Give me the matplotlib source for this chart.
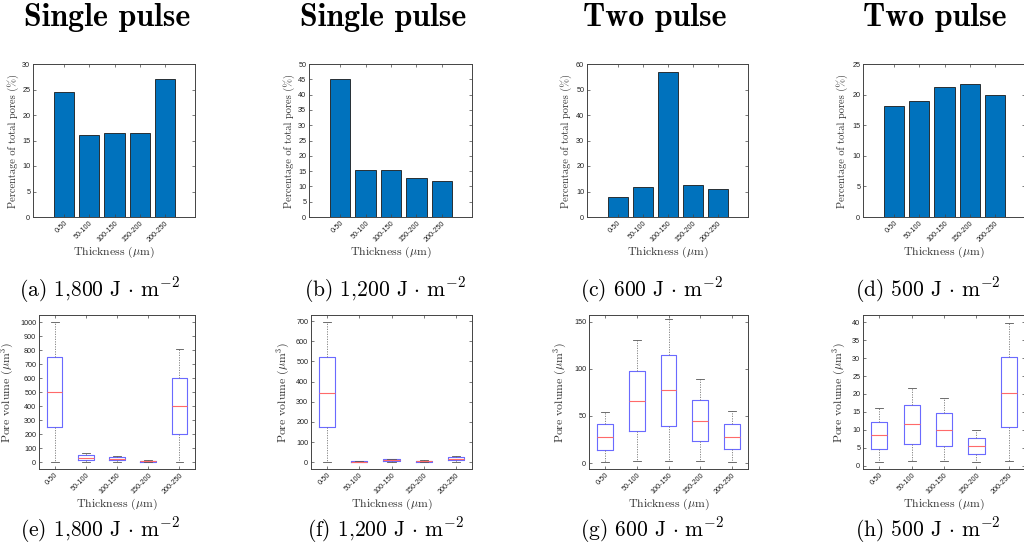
import numpy as np
import matplotlib
matplotlib.use("Agg")
import matplotlib.pyplot as plt

plt.rcParams['mathtext.fontset'] = 'cm'
plt.rcParams['axes.unicode_minus'] = False
plt.rcParams['font.sans-serif'] = ['Liberation Sans', 'DejaVu Sans']

cats = ["0-50", "50-100", "100-150", "150-200", "200-250"]

# percentage of total pores per thickness class
pct_a = [24.5, 16.0, 16.4, 16.5, 27.0]
pct_b = [45.2, 15.4, 15.2, 12.6, 11.8]
pct_c = [8.0, 11.8, 57.0, 12.7, 10.9]
pct_d = [18.1, 19.0, 21.3, 21.8, 19.9]

# pore volume box stats: whislo, q1, med, q3, whishi
vol_e = [[0, 250, 500, 750, 1000], [0, 15, 30, 50, 65], [0, 15, 25, 38, 48],
         [0, 5, 8, 12, 18], [0, 200, 400, 605, 810]]
vol_f = [[0, 175, 345, 520, 695], [0, 2, 4, 6, 8], [0, 5, 10, 16, 18],
         [0, 3, 5, 7, 10], [0, 10, 17, 25, 30]]
vol_g = [[1, 14, 28, 41, 54], [2, 34, 66, 98, 130], [2, 39, 77, 115, 153],
         [2, 23, 45, 67, 89], [1, 15, 28, 42, 55]]
vol_h = [[1, 4.8, 8.5, 12.3, 16], [1.2, 6.2, 11.5, 16.8, 21.8], [1.2, 5.4, 10.1, 14.6, 19],
         [1, 3.2, 5.4, 7.7, 9.9], [1.2, 10.7, 20.4, 30.2, 39.9]]

titles = ["Single pulse", "Single pulse", "Two pulse", "Two pulse"]
fluence = ["1,800", "1,200", "600", "500"]

W, H = 1024, 554
fig = plt.figure(figsize=(W / 100, H / 100), dpi=100)

def px_axes(x0, y0, x1, y1):
    return fig.add_axes([x0 / W, 1 - y1 / H, (x1 - x0) / W, (y1 - y0) / H])

def style(ax):
    for s in ax.spines.values():
        s.set_color('#444444')
        s.set_linewidth(0.7)
    ax.tick_params(direction='in', top=True, right=True, length=2, width=0.5,
                   colors='#444444', labelsize=5.2, labelcolor='#222222', pad=2)
    for lab in ax.get_xticklabels():
        lab.set_rotation(45)
        lab.set_ha('right')
        lab.set_rotation_mode('anchor')

serif = dict(family='cmr10')

bar_boxes = [(33, 64, 195, 217), (309, 64, 472, 217), (587, 64, 748, 217), (863, 64, 1025, 217)]
bar_data = [pct_a, pct_b, pct_c, pct_d]
bar_ylim = [(0, 30, 5), (0, 50, 5), (0, 60, 10), (0, 25, 5)]
bar_ylab_x = [-0.086, -0.086, -0.093, -0.093]

x = np.arange(1, 6)
for box, vals, (lo, hi, st), lx in zip(bar_boxes, bar_data, bar_ylim, bar_ylab_x):
    ax = px_axes(*box)
    ax.bar(x, vals, width=0.8, color='#0072BD', edgecolor='#1a1a1a', linewidth=0.6)
    ax.set_xlim(-0.23, 6.19)
    ax.set_ylim(lo, hi)
    ax.set_yticks(np.arange(lo, hi + 0.1, st))
    ax.set_xticks(x)
    ax.set_xticklabels(cats)
    style(ax)
    ax.set_ylabel("Percentage of total pores (%)", fontsize=7.5, color='#333333', **serif)
    ax.set_xlabel(r"Thickness ($\mu$m)", fontsize=8.5, color='#333333', **serif)
    ax.yaxis.set_label_coords(lx, 0.5)
    ax.xaxis.set_label_coords(0.5, -0.183)

box_boxes = [(39, 315, 195, 469), (311, 315, 472, 469), (589, 315, 748, 469), (863, 315, 1025, 469)]
box_data = [vol_e, vol_f, vol_g, vol_h]
box_ylim = [((-48, 1053), np.arange(0, 1001, 100)), ((-33, 730), np.arange(0, 701, 100)),
            ((-6.2, 157), np.arange(0, 151, 50)), ((-0.9, 42), np.arange(0, 41, 5))]
box_ylab_x = [-0.147, -0.118, -0.126, -0.093]

for box, vals, (yl, yt), lx in zip(box_boxes, box_data, box_ylim, box_ylab_x):
    ax = px_axes(*box)
    stats = [dict(whislo=v[0], q1=v[1], med=v[2], q3=v[3], whishi=v[4], fliers=[]) for v in vals]
    ax.bxp(stats, positions=x, widths=0.5, capwidths=0.25, showfliers=False,
           boxprops=dict(color='#6a6aff', linewidth=0.8),
           medianprops=dict(color='#ff6a6a', linewidth=0.8),
           whiskerprops=dict(color='#777777', linewidth=0.6, linestyle=(0, (1.5, 1.5))),
           capprops=dict(color='#555555', linewidth=0.6))
    ax.set_xlim(0.5, 5.5)
    ax.set_ylim(*yl)
    ax.set_yticks(yt)
    ax.set_xticks(x)
    ax.set_xticklabels(cats)
    style(ax)
    ax.set_ylabel(r"Pore volume ($\mu$m$^3$)", fontsize=8.5, color='#333333', **serif)
    ax.set_xlabel(r"Thickness ($\mu$m)", fontsize=8.5, color='#333333', **serif)
    ax.yaxis.set_label_coords(lx, 0.5)
    ax.xaxis.set_label_coords(0.5, -0.182)

title_x = [107, 383, 655, 935]
cap_x = [100, 385, 652, 928]
unit = r"$\mathrm{J}\,\cdot\,\mathrm{m}^{-2}$"
for i in range(4):
    fig.text(title_x[i] / W, 1 - 18 / H, titles[i], ha='center', va='center',
             fontsize=23, family='cmb10')
    fig.text(cap_x[i] / W, 1 - 290 / H, "(%s) %s " % ("abcd"[i], fluence[i]) + unit,
             ha='center', va='center', fontsize=15.5, **serif)
    fig.text(cap_x[i] / W, 1 - 530 / H, "(%s) %s " % ("efgh"[i], fluence[i]) + unit,
             ha='center', va='center', fontsize=15.5, **serif)

fig.savefig("out.png", dpi=100)
